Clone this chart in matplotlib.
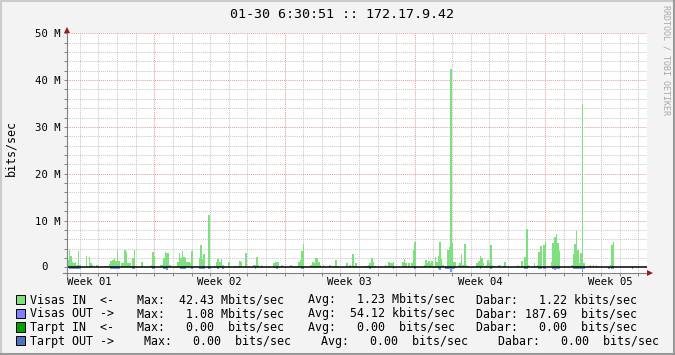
import numpy as np
import matplotlib.pyplot as plt
import matplotlib.transforms as mtransforms
from matplotlib.patches import Rectangle
from matplotlib.lines import Line2D

plt.rcParams['font.family'] = ['DejaVu Sans Mono']

# traffic in Mbits/sec, one sample per 2 hours, one row per day
visas_in = [
    1.5, 3.8, 2.5, 1.1, 0.9, 1.1, 0.6, 3.4, 0.6, 0, 0, 0,
    2.5, 0, 2.3, 0.9, 0.6, 0, 0, 0.6, 0, 0, 0, 0,
    0.35, 0, 0.35, 0.8, 1.3, 1.5, 1.9, 1.3, 3.6, 1.3, 0, 0.85,
    0.85, 3.6, 3.2, 0.85, 0.85, 0.2, 2.0, 3.8, 0, 0, 0, 0,
    1.1, 0, 0, 0, 0, 0.2, 0.6, 3.2, 2.3, 0, 0, 0,
    0.4, 0.6, 1.9, 3.2, 3.0, 3.0, 0.4, 0, 0, 0, 0, 1.1,
    3.0, 1.9, 3.4, 2.3, 1.9, 1.1, 1.1, 0.85, 3.4, 0, 0, 0.2,
    0, 1.9, 4.7, 1.7, 2.8, 0, 0, 11.1, 0, 0, 0, 0.35,
    1.1, 1.7, 1.1, 1.7, 0.4, 0.2, 0, 0, 1.1, 0, 0, 0,
    0.2, 0.2, 0.2, 1.3, 1.1, 0, 0, 3.0, 0, 0, 0, 0,
    0.4, 0.4, 2.1, 0.6, 0, 0.6, 0, 0, 0, 0, 0, 0,
    0, 0.85, 1.1, 1.1, 1.1, 0, 0.4, 0, 0, 0, 0, 0,
    0.6, 0.2, 0, 0.2, 0.2, 1.1, 1.5, 3.4, 4.9, 0, 0, 0,
    0, 0.4, 1.1, 0.85, 1.9, 1.9, 1.1, 0.4, 0, 0.4, 0, 0,
    0, 0.4, 0, 0.2, 0, 1.5, 0.2, 0, 0, 0, 0, 0,
    0.85, 0, 0.4, 0, 2.8, 0.2, 0.85, 0, 0, 0, 0, 0.2,
    0.2, 0.2, 0.4, 0.85, 1.9, 1.1, 0.2, 0, 0, 0, 0, 0,
    0, 0.4, 0.2, 1.1, 0.85, 0.85, 1.1, 0, 0.2, 0, 0, 0,
    1.1, 1.7, 0.85, 0, 0.85, 0, 0.85, 3.8, 5.5, 0, 0, 0,
    0, 0.2, 0.4, 1.5, 0.85, 1.3, 0.85, 1.3, 0.2, 2.1, 1.1, 2.5,
    5.5, 1.7, 0.4, 0, 0.2, 3.6, 4.3, 42.43, 5.3, 1.1, 1.1, 0,
    0.4, 0.85, 2.8, 0.6, 4.9, 0.6, 0.2, 0, 0, 0, 0, 0,
    0.85, 1.3, 2.5, 1.9, 0.85, 0.2, 0.6, 1.5, 0.85, 4.7, 0.4, 0.2,
    0, 0, 0.6, 0.4, 0, 0.2, 1.1, 0.2, 0, 0, 0, 0,
    0, 0, 0.6, 0.2, 0, 1.3, 0.2, 2.1, 8.1, 0.4, 0, 0,
    0.2, 0.85, 0.2, 0.6, 3.2, 4.5, 0.2, 4.7, 5.5, 0, 0, 0,
    1.1, 5.3, 6.4, 7.2, 5.3, 3.4, 0, 0, 0, 0, 0, 0,
    0, 0.4, 2.8, 4.9, 7.7, 3.8, 0.85, 3.0, 35.0, 0.85, 0, 0,
    0.2, 0.4, 0, 0.6, 0, 0.6, 0, 0, 0, 0, 0, 0,
    0, 0, 0.6, 4.7, 5.5, 0, 0, 0, 0, 0, 0, 0,
    0, 0, 0, 0, 0, 0, 0, 0, 0, 0, 0, 0,
    0, 0,
]
visas_out = [
    0, .35, .35, .35, .35, .35, .35, .35, .35, 0, 0, 0,
    0, 0, 0, 0, 0, 0, 0, 0, 0, 0, 0, 0,
    0, 0, 0, 0, .35, .35, .35, .35, .35, .35, 0, 0,
    0, 0, 0, 0, 0, 0, .35, .35, 0, 0, 0, 0,
    0, 0, 0, 0, 0, 0, 0, .35, .35, 0, 0, 0,
    0, 0, .35, .35, .55, 0, 0, 0, 0, 0, 0, 0,
    0, .35, .35, .35, .35, 0, 0, 0, .35, 0, 0, 0,
    0, .35, .35, .35, .35, 0, 0, .4, .4, 0, 0, 0,
    0, .35, 0, 0, .35, 0, 0, 0, 0, 0, 0, 0,
    0, 0, 0, 0, 0, 0, 0, 0, 0, 0, 0, 0,
    0, .35, 0, 0, 0, 0, 0, 0, 0, 0, 0, 0,
    0, 0, 0, .35, 0, 0, 0, 0, 0, 0, 0, 0,
    0, 0, 0, 0, 0, 0, 0, .35, .35, 0, 0, 0,
    0, 0, 0, 0, 0, 0, 0, 0, 0, 0, 0, 0,
    0, 0, 0, 0, 0, 0, 0, 0, 0, 0, 0, 0,
    0, 0, 0, 0, 0, 0, 0, 0, 0, 0, 0, 0,
    0, 0, 0, .35, 0, 0, 0, 0, 0, 0, 0, 0,
    0, 0, 0, 0, 0, 0, .35, 0, 0, 0, 0, 0,
    0, 0, 0, 0, 0, 0, 0, 0, .35, 0, 0, 0,
    0, 0, 0, 0, 0, 0, 0, 0, 0, 0, 0, .4,
    .55, 0, 0, 0, .35, .35, .35, 1.08, .35, .35, 0, 0,
    0, 0, 0, 0, 0, 0, 0, 0, 0, 0, 0, 0,
    0, 0, .35, 0, 0, 0, 0, 0, 0, .35, 0, 0,
    0, 0, 0, 0, 0, 0, 0, 0, 0, 0, 0, 0,
    0, 0, 0, 0, 0, 0, 0, .35, .35, 0, 0, 0,
    0, 0, 0, 0, .35, .35, 0, .35, .35, 0, 0, 0,
    0, .35, .5, .35, .35, .35, 0, 0, 0, 0, 0, 0,
    0, 0, .35, .35, .35, .35, .35, .35, .9, .35, 0, 0,
    0, 0, 0, 0, 0, 0, 0, 0, 0, 0, 0, 0,
    0, .35, 0, .35, .45, 0, 0, 0, 0, 0, 0, 0,
    0, 0, 0, 0, .35, 0, 0, 0, 0, 0, 0, 0,
    0, 0,
]

step_days = 2 / 24
span_days = 31.15
week_lines = [4.69, 11.69, 18.69, 25.69]
day_lines = [0.69 + d for d in range(31)]
week_pos = [1.19, 8.19, 15.19, 22.19, 29.19]
week_labels = ['Week 01', 'Week 02', 'Week 03', 'Week 04', 'Week 05']
y_major = [10, 20, 30, 40, 50]
y_labels = ['10 M', '20 M', '30 M', '40 M', '50 M']
y_minor = list(range(2, 50, 2))

legend_labels = ['Visas IN  <-', 'Visas OUT ->', 'Tarpt IN  <-', 'Tarpt OUT ->']
legend_colors = ['#7FE07F', '#8080FF', '#00A000', '#5070C0']
max_vals = [42.43, 1.08, 0.00, 0.00]
max_units = ['M', 'M', ' ', ' ']
avg_vals = [1.23, 54.12, 0.00, 0.00]
avg_units = ['M', 'k', ' ', ' ']
cur_vals = [1.22, 187.69, 0.00, 0.00]
cur_units = ['k', ' ', ' ', ' ']

W, H = 675, 355
fig = plt.figure(figsize=(W / 100, H / 100), dpi=100, facecolor='#F3F3F3')
px = mtransforms.Affine2D().scale(1 / W, -1 / H).translate(0, 1) + fig.transFigure

left, right, top, bottom = 67, 646.7, 33.3, 272.7
ax = fig.add_axes([left / W, 1 - bottom / H, (right - left) / W, (bottom - top) / H])
ax.set_facecolor('white')
ax.set_xlim(0, span_days)
ax.set_ylim(-1.15, 50)

grid_gray = '#C8C8C8'
grid_red = '#EE9C9C'
for d in day_lines:
    if min(abs(d - w) for w in week_lines) > 0.01:
        ax.axvline(d, color=grid_gray, lw=0.75, ls=(0, (1, 1)), zorder=1)
for w in week_lines:
    ax.axvline(w, color=grid_red, lw=0.75, ls=(0, (1, 1)), zorder=1)
for y in y_minor:
    if y % 10:
        ax.axhline(y, color=grid_gray, lw=0.75, ls=(0, (1, 1)), zorder=1)
for y in y_major:
    ax.axhline(y, color=grid_red, lw=0.75, ls=(0, (1, 1)), zorder=1)

edges = np.arange(len(visas_in) + 1) * step_days
ax.stairs(visas_in, edges, fill=True, color='#7FE07F', baseline=0, lw=0, zorder=2,
          antialiased=False)
ax.stairs(-np.array(visas_out), edges, fill=True, color='#8090FF', baseline=0, lw=0, zorder=2,
          antialiased=False)
ax.axhline(0, color='black', lw=1.1, zorder=4)

for s in ax.spines.values():
    s.set_visible(False)
ax.set_xticks(week_pos, week_labels)
ax.set_xticks(day_lines, minor=True)
ax.tick_params(axis='x', which='major', length=0, pad=3, labelsize=7.7)
ax.tick_params(axis='x', which='minor', length=2, width=0.7, color='#808080')
ax.set_yticks(y_major, y_labels)
ax.set_yticks(y_minor + [0], minor=True)
ax.tick_params(axis='y', which='major', length=2, width=0.7, color='#808080', pad=3, labelsize=7.7)
ax.tick_params(axis='y', which='minor', length=2, width=0.7, color='#808080')
ax.text(48, 0, '0', transform=mtransforms.blended_transform_factory(px, ax.transData),
        ha='right', va='center', fontsize=7.7)

# axes lines with arrow heads
fig.add_artist(Line2D([63, 648], [bottom, bottom], transform=px, color='#808080', lw=0.8))
fig.add_artist(Line2D([left, left], [bottom + 4, 31], transform=px, color='#808080', lw=0.8))
fig.add_artist(Line2D([650], [bottom], transform=px, marker='>', ms=5, color='#9B1C1C', mew=0))
fig.add_artist(Line2D([left], [30], transform=px, marker='^', ms=5, color='#9B1C1C', mew=0))

fig.text(341.5 / W, 1 - 18.5 / H, '01-30 6:30:51 :: 172.17.9.42', ha='center', va='baseline', fontsize=9.6)
fig.text(10.5 / W, 1 - 148.3 / H, 'bits/sec', rotation=90, ha='center', va='center', fontsize=8.4)
fig.text(666 / W, 1 - 5 / H, 'RRDTOOL / TOBI OETIKER', rotation=270, ha='center', va='top',
         fontsize=6, color='#A8A8A8')

row_base = [303.5, 317.2, 330.9, 344.6]
col_x = [[30.5, 137, 307.5, 476]] * 3 + [[30.5, 144.5, 321, 497.5]]
for i in range(4):
    yb = row_base[i]
    fig.add_artist(Rectangle((15.7, yb - 8.5), 9.3, 9.3, transform=px, facecolor=legend_colors[i],
                             edgecolor='black', lw=0.7))
    cx = col_x[i]
    parts = [legend_labels[i],
             f'Max: {max_vals[i]:6.2f} {max_units[i]}bits/sec',
             f'Avg: {avg_vals[i]:6.2f} {avg_units[i]}bits/sec',
             f'Dabar: {cur_vals[i]:6.2f} {cur_units[i]}bits/sec']
    for x, s in zip(cx, parts):
        fig.text(x / W, 1 - yb / H, s, ha='left', va='baseline', fontsize=8.4)

# shaded frame
fig.add_artist(Line2D([0, W], [0.8, 0.8], transform=px, color='#CBCBCB', lw=1.5))
fig.add_artist(Line2D([0.8, 0.8], [0, H], transform=px, color='#CBCBCB', lw=1.5))
fig.add_artist(Line2D([0, W], [H - 0.8, H - 0.8], transform=px, color='#999999', lw=1.5))
fig.add_artist(Line2D([W - 0.8, W - 0.8], [0, H], transform=px, color='#999999', lw=1.5))

fig.savefig('out.png', dpi=100, facecolor=fig.get_facecolor())
